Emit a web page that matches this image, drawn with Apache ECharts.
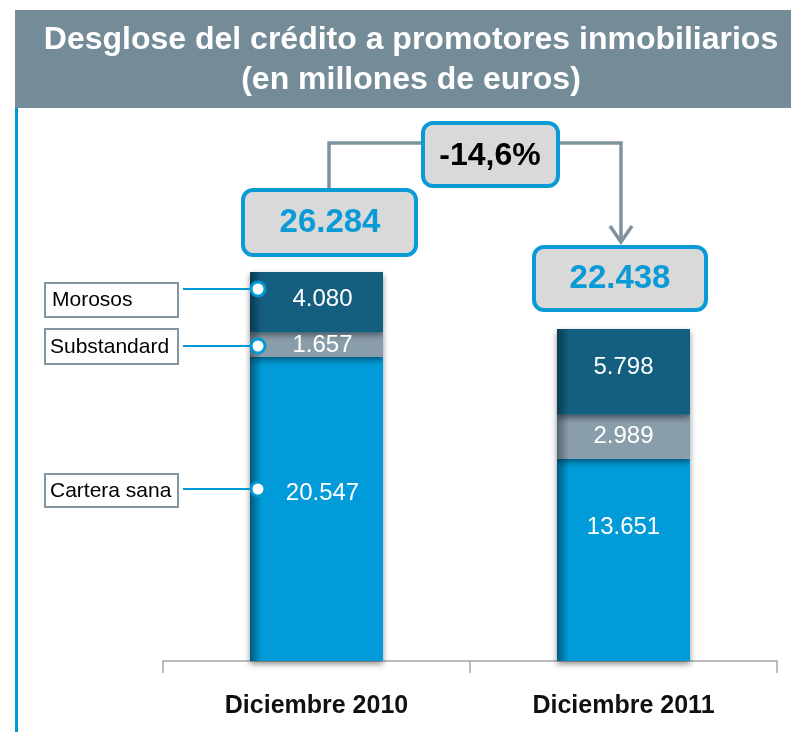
<!DOCTYPE html>
<html>
<head>
<meta charset="utf-8">
<script src="https://cdn.jsdelivr.net/npm/echarts@6/dist/echarts.min.js"></script>
<style>
  html, body { margin: 0; padding: 0; background: #fff; }
  #main { width: 791px; height: 732px; }
</style>
</head>
<body>
<div id="main"></div>
<script>
// datos (millones de euros)
var categories = ['Diciembre 2010', 'Diciembre 2011']
var carteraSana = [20547, 13651]
var substandard = [1657, 2989]
var morosos = [4080, 5798]
var seriesNames = ['Cartera sana', 'Substandard', 'Morosos']

function fmtEs(n) {
    return String(n).replace(/\B(?=(\d{3})+(?!\d))/g, '.')
}

var totals = categories.map(function (c, i) {
    return carteraSana[i] + substandard[i] + morosos[i]
})
var variation = ((totals[1] / totals[0] - 1) * 100).toFixed(1).replace('.', ',') + '%'

var FONT = '"Liberation Sans", Arial, sans-serif'
var BLUE = '#0a9ad6'

function barGrad(dark, base) {
    return {
        type: 'linear', x: 0, y: 0, x2: 1, y2: 0,
        colorStops: [
            { offset: 0, color: dark },
            { offset: 0.09, color: base },
            { offset: 1, color: base },
        ],
    }
}

function segLabel(offsets) {
    return function (v, i) {
        return { value: v, label: { offset: offsets[i] } }
    }
}

var labelStyle = {
    show: true,
    position: 'inside',
    color: '#fff',
    fontSize: 24,
    fontFamily: FONT,
    formatter: function (p) { return fmtEs(p.value) },
}
var shadow = { shadowColor: 'rgba(0,0,0,0.45)', shadowBlur: 6, shadowOffsetY: 3 }

var myChart = echarts.init(document.getElementById('main'))
var option = {
    animation: false,
    backgroundColor: '#fff',
    grid: { left: 163, right: 14, top: 217, bottom: 71 },
    xAxis: {
        type: 'category',
        data: categories,
        boundaryGap: true,
        axisLine: { lineStyle: { color: '#a6a6a6', width: 1.5 } },
        axisTick: { show: true, alignWithLabel: false, interval: 0, length: 12, lineStyle: { color: '#a6a6a6', width: 1.5 } },
        axisLabel: { margin: 33, fontSize: 25, fontWeight: 'bold', color: '#111', fontFamily: FONT },
    },
    yAxis: { type: 'value', min: 0, max: 30000, show: false },
    series: [
        {
            name: seriesNames[0], type: 'bar', stack: 't', barWidth: 133,
            itemStyle: Object.assign({ color: barGrad('#005a80', '#009bd8') }, shadow),
            label: labelStyle,
            data: carteraSana.map(segLabel([[6, -16], [0, -33]])),
        },
        {
            name: seriesNames[1], type: 'bar', stack: 't',
            itemStyle: Object.assign({ color: barGrad('#55656f', '#8a9dab') }, shadow),
            label: labelStyle,
            data: substandard.map(segLabel([[6, 1], [0, 0]])),
        },
        {
            name: seriesNames[2], type: 'bar', stack: 't',
            itemStyle: Object.assign({ color: barGrad('#0a3a50', '#145f80') }, shadow),
            label: labelStyle,
            data: morosos.map(segLabel([[6, -3], [0, -4]])),
        },
    ],
    graphic: [
        // cabecera
        { type: 'rect', shape: { x: 15, y: 10, width: 776, height: 98 }, style: { fill: '#748b98' }, z: 1 },
        {
            type: 'text', x: 411, y: 60, z: 2,
            style: {
                text: 'Desglose del crédito a promotores inmobiliarios\n(en millones de euros)',
                fill: '#fff', font: 'bold 32px ' + FONT, align: 'center', verticalAlign: 'middle', lineHeight: 40,
            },
        },
        { type: 'rect', shape: { x: 15, y: 108, width: 3, height: 624 }, style: { fill: '#0099d6' }, z: 1 },

        // leyenda lateral
        { type: 'rect', shape: { x: 45, y: 283, width: 133, height: 34 }, style: { fill: '#fff', stroke: '#8395a1', lineWidth: 2 }, z: 5 },
        { type: 'text', x: 52, y: 300, z: 6, style: { text: seriesNames[2], font: '21px ' + FONT, fill: '#000', verticalAlign: 'middle' } },
        { type: 'rect', shape: { x: 45, y: 329, width: 133, height: 35 }, style: { fill: '#fff', stroke: '#8395a1', lineWidth: 2 }, z: 5 },
        { type: 'text', x: 50, y: 347, z: 6, style: { text: seriesNames[1], font: '21px ' + FONT, fill: '#000', verticalAlign: 'middle' } },
        { type: 'rect', shape: { x: 45, y: 474, width: 133, height: 33 }, style: { fill: '#fff', stroke: '#8395a1', lineWidth: 2 }, z: 5 },
        { type: 'text', x: 50, y: 491, z: 6, style: { text: seriesNames[0], font: '21px ' + FONT, fill: '#000', verticalAlign: 'middle' } },

        { type: 'line', shape: { x1: 183, y1: 289, x2: 258, y2: 289 }, style: { stroke: '#0099d6', lineWidth: 2 }, z: 5 },
        { type: 'line', shape: { x1: 183, y1: 346, x2: 258, y2: 346 }, style: { stroke: '#0099d6', lineWidth: 2 }, z: 5 },
        { type: 'line', shape: { x1: 183, y1: 489, x2: 258, y2: 489 }, style: { stroke: '#0099d6', lineWidth: 2 }, z: 5 },
        { type: 'circle', shape: { cx: 258, cy: 289, r: 7 }, style: { fill: '#fff', stroke: '#0099d6', lineWidth: 3 }, z: 6 },
        { type: 'circle', shape: { cx: 258, cy: 346, r: 7 }, style: { fill: '#fff', stroke: '#0099d6', lineWidth: 3 }, z: 6 },
        { type: 'circle', shape: { cx: 258, cy: 489, r: 7 }, style: { fill: '#fff', stroke: '#0099d6', lineWidth: 3 }, z: 6 },

        // conector y flecha
        { type: 'polyline', shape: { points: [[329, 190], [329, 143], [425, 143]] }, style: { stroke: '#7f939f', lineWidth: 3.5, fill: null }, z: 4 },
        { type: 'polyline', shape: { points: [[556, 143], [621, 143], [621, 242]] }, style: { stroke: '#7f939f', lineWidth: 3.5, fill: null }, z: 4 },
        { type: 'polyline', shape: { points: [[610, 226], [621, 242], [632, 226]] }, style: { stroke: '#7f939f', lineWidth: 3.5, fill: null }, z: 4 },

        // totales
        { type: 'rect', shape: { x: 243, y: 190, width: 173, height: 65, r: 10 }, style: { fill: '#d9d9d9', stroke: BLUE, lineWidth: 4 }, z: 5 },
        { type: 'text', x: 330, y: 223, z: 6, style: { text: fmtEs(totals[0]), font: 'bold 33px ' + FONT, fill: BLUE, align: 'center', verticalAlign: 'middle' } },
        { type: 'rect', shape: { x: 534, y: 247, width: 172, height: 63, r: 10 }, style: { fill: '#d9d9d9', stroke: BLUE, lineWidth: 4 }, z: 5 },
        { type: 'text', x: 620, y: 279, z: 6, style: { text: fmtEs(totals[1]), font: 'bold 33px ' + FONT, fill: BLUE, align: 'center', verticalAlign: 'middle' } },
        { type: 'rect', shape: { x: 423, y: 123, width: 135, height: 63, r: 10 }, style: { fill: '#d9d9d9', stroke: BLUE, lineWidth: 4 }, z: 5 },
        { type: 'text', x: 490, y: 156, z: 6, style: { text: variation, font: 'bold 32px ' + FONT, fill: '#000', align: 'center', verticalAlign: 'middle' } },
    ],
}
myChart.setOption(option)
</script>
</body>
</html>
